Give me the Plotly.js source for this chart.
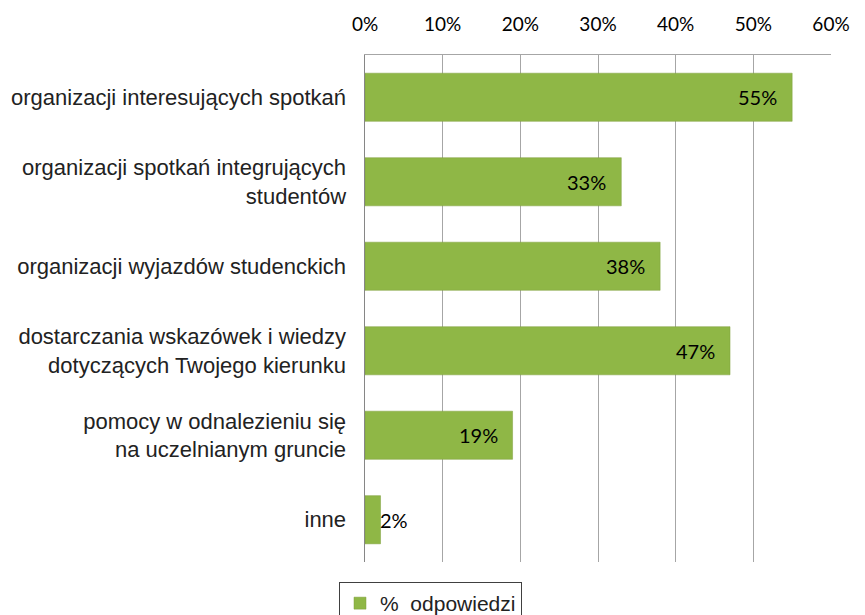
<!DOCTYPE html>
<html><head><meta charset="utf-8">
<script src="https://cdn.plot.ly/plotly-3.0.1.min.js"></script>
<style>body{margin:0;background:#fff}</style>
</head><body><div id="chart" style="width:865px;height:615px"></div>
<script>
var categories = [
  "organizacji interesujących spotkań",
  "organizacji spotkań integrujących<br>studentów",
  "organizacji wyjazdów studenckich",
  "dostarczania wskazówek i wiedzy<br>dotyczących Twojego kierunku",
  "pomocy w odnalezieniu się<br>na uczelnianym gruncie",
  "inne"
];
var values = [0.55, 0.33, 0.38, 0.47, 0.19, 0.02];
var valueLabels = ["55%", "33%", "38%", "47%", "19%", "2%"];
var seriesName = "% odpowiedzi";
var xTickVals = [0, 0.1, 0.2, 0.3, 0.4, 0.5, 0.6];
var xTickText = ["0%", "10%", "20%", "30%", "40%", "50%", "60%"];

var trace = {
  type: "bar", orientation: "h",
  x: values, y: categories, name: seriesName.replace(" ", " \u00a0"),
  marker: {color: "#8fb746", line: {color: "#7e9f3c", width: 0.5}},
  hoverinfo: "skip"
};

var annotations = values.map(function(v, i){
  var small = v < 0.05;
  return {
    x: v, y: categories[i], xref: "x", yref: "y",
    text: valueLabels[i], showarrow: false,
    xanchor: small ? "left" : "right",
    xshift: small ? -3 : -13,
    font: {family: "Lato, sans-serif", size: 20, color: "#000"}
  };
});

var layout = {
  width: 865, height: 615,
  margin: {l: 365, r: 34, t: 55, b: 53},
  paper_bgcolor: "#fff", plot_bgcolor: "#fff",
  bargap: 0.43,
  showlegend: true,
  legend: {
    orientation: "h", xref: "container", yref: "container",
    x: 339/865, y: 1 - 582/615, xanchor: "left", yanchor: "top",
    bordercolor: "#404040", borderwidth: 1, bgcolor: "#fff",
    font: {family: "Liberation Sans, Arial, sans-serif", size: 21, color: "#222"}
  },
  xaxis: {
    side: "top", range: [0, 0.6], tickvals: xTickVals, ticktext: xTickText,
    showgrid: true, gridcolor: "#a6a6a6", gridwidth: 1,
    showline: true, linecolor: "#a6a6a6", linewidth: 1,
    zeroline: false, ticks: "", ticklabelstandoff: 15,
    tickfont: {family: "Lato, sans-serif", size: 19, color: "#000"},
    fixedrange: true
  },
  yaxis: {
    autorange: "reversed", showgrid: false, zeroline: false,
    showline: true, linecolor: "#868686", linewidth: 1.5,
    ticks: "", ticklabelstandoff: 13,
    tickfont: {family: "Liberation Sans, Arial, sans-serif", size: 22, color: "#222"},
    fixedrange: true
  },
  annotations: annotations
};

Plotly.newPlot("chart", [trace], layout, {displayModeBar: false, staticPlot: true});
</script></body></html>
